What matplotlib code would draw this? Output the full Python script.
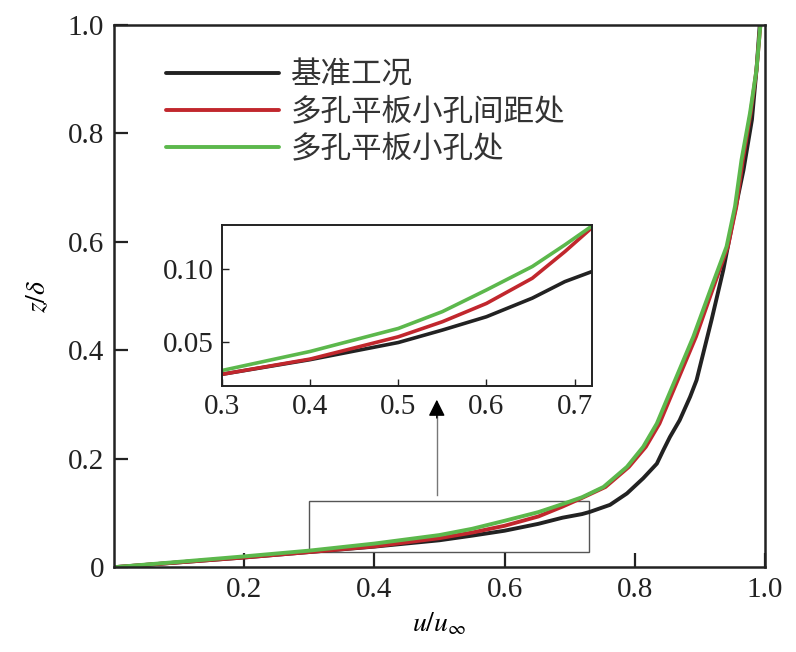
import numpy as np
import matplotlib
matplotlib.use("Agg")
import matplotlib.pyplot as plt
from matplotlib.patches import Rectangle

plt.rcParams['font.family'] = ['Liberation Serif', 'DejaVu Serif']
plt.rcParams['mathtext.fontset'] = 'stix'

# values (u/u_inf, z/delta)
base_x = [0, 0.1, 0.2, 0.3, 0.4, 0.5, 0.55, 0.6, 0.652, 0.689, 0.719, 0.731, 0.762, 0.788,
          0.813, 0.834, 0.844, 0.854, 0.869, 0.885, 0.895, 0.918, 0.936, 0.951, 0.967,
          0.980, 0.987, 0.992]
base_y = [0, 0.009, 0.018, 0.028, 0.038, 0.0497, 0.0582, 0.0673, 0.080, 0.0913, 0.098, 0.102,
          0.115, 0.136, 0.164, 0.191, 0.216, 0.240, 0.271, 0.314, 0.345, 0.456, 0.548, 0.640,
          0.732, 0.825, 0.917, 1.0]

gap_x = [0, 0.1, 0.2, 0.3, 0.4, 0.5, 0.55, 0.6, 0.652, 0.689, 0.719, 0.755, 0.791, 0.817,
         0.838, 0.853, 0.866, 0.894, 0.921, 0.943, 0.956, 0.966, 0.978, 0.987, 0.993]
gap_y = [0, 0.009, 0.018, 0.028, 0.0384, 0.0536, 0.0639, 0.0764, 0.0936, 0.1118, 0.1278, 0.148,
         0.185, 0.222, 0.265, 0.308, 0.345, 0.425, 0.517, 0.591, 0.665, 0.751, 0.837, 0.917, 1.0]

hole_x = [0, 0.1, 0.2, 0.3, 0.4, 0.5, 0.55, 0.6, 0.652, 0.689, 0.719, 0.752, 0.788, 0.813,
          0.834, 0.849, 0.862, 0.890, 0.918, 0.941, 0.954, 0.964, 0.977, 0.987, 0.993]
hole_y = [0, 0.010, 0.020, 0.0306, 0.0436, 0.0593, 0.0708, 0.0856, 0.1016, 0.1164, 0.129, 0.148,
          0.185, 0.222, 0.265, 0.308, 0.345, 0.425, 0.517, 0.591, 0.665, 0.751, 0.837, 0.917, 1.0]

labels = ["基准工况", "多孔平板小孔间距处", "多孔平板小孔处"]
colors = ["#222222", "#c1272d", "#5cb84c"]

xticks = [0.2, 0.4, 0.6, 0.8, 1.0]
xtick_labels = ["0.2", "0.4", "0.6", "0.8", "1.0"]
yticks = [0, 0.2, 0.4, 0.6, 0.8, 1.0]
ytick_labels = ["0", "0.2", "0.4", "0.6", "0.8", "1.0"]

ins_xticks = [0.3, 0.4, 0.5, 0.6, 0.7]
ins_xtick_labels = ["0.3", "0.4", "0.5", "0.6", "0.7"]
ins_yticks = [0.05, 0.10]
ins_ytick_labels = ["0.05", "0.10"]

fig = plt.figure(figsize=(7.96, 6.52), dpi=100)
ax = fig.add_axes([0.143, 0.130, 0.818, 0.832])

series = [(base_x, base_y), (gap_x, gap_y), (hole_x, hole_y)]
for (xs, ys), lab, c in zip(series, labels, colors):
    ax.plot(xs, ys, color=c, lw=2.8, label=lab, solid_capstyle='round', solid_joinstyle='round')

ax.set_xlim(0, 1)
ax.set_ylim(0, 1)
ax.set_xticks(xticks)
ax.set_xticklabels(xtick_labels)
ax.set_yticks(yticks)
ax.set_yticklabels(ytick_labels)
ax.tick_params(direction='in', length=10, width=1.6, labelsize=21, colors='#222222', pad=7)
for s in ax.spines.values():
    s.set_linewidth(1.8)
    s.set_color('#222222')
ax.set_xlabel(r"$u/u_{\infty}$", fontsize=20, labelpad=6)
ax.set_ylabel(r"$z/\delta$", fontsize=20, labelpad=12)

leg = ax.legend(loc='upper left', bbox_to_anchor=(0.08, 0.935), frameon=False,
                prop={'family': ['Noto Sans CJK SC'], 'size': 22},
                handlelength=3.7, handletextpad=0.38, labelspacing=0.19,
                borderpad=0, borderaxespad=0)
for t in leg.get_texts():
    t.set_color('#333333')

# zoom box and arrow
ax.add_patch(Rectangle((0.3, 0.028), 0.43, 0.095, fill=False, ec='#555555', lw=1.0))
ax.plot([0.496, 0.496], [0.134, 0.28], color='#777777', lw=1.0)
ax.annotate("", xy=(0.496, 0.314), xytext=(0.496, 0.27),
            arrowprops=dict(arrowstyle='-|>', color='black', lw=1.0, mutation_scale=25))

# inset
ins = fig.add_axes([0.279, 0.408, 0.465, 0.247])
for (xs, ys), c in zip(series, colors):
    ins.plot(xs, ys, color=c, lw=2.6, solid_joinstyle='round')
ins.set_xlim(0.3, 0.72)
ins.set_ylim(0.02, 0.13)
ins.set_xticks(ins_xticks)
ins.set_xticklabels(ins_xtick_labels)
ins.set_yticks(ins_yticks)
ins.set_yticklabels(ins_ytick_labels)
ins.tick_params(direction='in', length=5, width=1.0, labelsize=21, colors='#222222', pad=6)
for s in ins.spines.values():
    s.set_linewidth(1.4)
    s.set_color('#222222')

fig.savefig("out.png", dpi=100)
